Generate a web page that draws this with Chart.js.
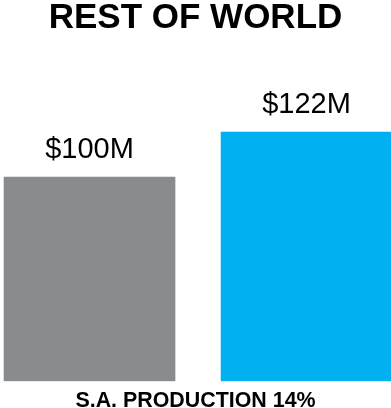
<!DOCTYPE html>
<html>
<head>
<meta charset="utf-8">
<script src="https://cdn.jsdelivr.net/npm/chart.js@4/dist/chart.umd.min.js"></script>
<style>
    html, body { margin: 0; padding: 0; background: #fff; }
    #wrap { width: 391px; height: 408px; position: relative; }
</style>
</head>
<body>
<div id="wrap"><canvas id="chart1"></canvas></div>
<script>
const categories = ['Current', 'With S.A. Production'];
const revenue = [100, 122];
const valueLabels = ['$100M', '$122M'];
const barColors = ['#898c8e', '#00b0f0'];
const chartTitle = 'REST OF WORLD';
const footLabel = 'S.A. PRODUCTION 14%';

const fontFamily = '"Liberation Sans", Arial, Helvetica, sans-serif';

// writes the dollar amount above each bar
const valueLabelPlugin = {
    id: 'valueLabels',
    afterDatasetsDraw(chart) {
        const ctx = chart.ctx;
        const meta = chart.getDatasetMeta(0);
        ctx.save();
        ctx.font = '29px ' + fontFamily;
        ctx.fillStyle = '#000';
        ctx.textAlign = 'center';
        ctx.textBaseline = 'alphabetic';
        meta.data.forEach((bar, i) => {
            ctx.fillText(valueLabels[i], bar.x, bar.y - 19);
        });
        ctx.restore();
    }
};

const chart1 = document.getElementById('chart1');
new Chart(chart1, {
    type: 'bar',
    data: {
        datasets: [{
            label: 'Revenue',
            data: revenue.map((v, i) => ({x: i, y: v, name: categories[i]})),
            backgroundColor: barColors,
            borderWidth: 0,
            barThickness: 171
        }]
    },
    options: {
        responsive: true,
        maintainAspectRatio: false,
        animation: false,
        layout: {padding: 0},
        plugins: {
            legend: {display: false},
            tooltip: {enabled: false},
            title: {
                display: true,
                text: chartTitle,
                color: '#000',
                font: {family: fontFamily, size: 35, weight: 'bold', lineHeight: 1.2},
                padding: {top: -3, bottom: 36}
            }
        },
        scales: {
            x: {
                type: 'linear',
                min: -0.4124,
                max: 1.389,
                offset: false,
                grid: {display: false},
                border: {display: false},
                ticks: {display: false},
                title: {
                    display: true,
                    text: footLabel,
                    color: '#000',
                    font: {family: fontFamily, size: 21.4, weight: 'bold', lineHeight: 1.2},
                    padding: {top: -1, bottom: -6}
                }
            },
            y: {
                display: false,
                min: 0,
                max: 150
            }
        }
    },
    plugins: [valueLabelPlugin]
});
</script>
</body>
</html>
